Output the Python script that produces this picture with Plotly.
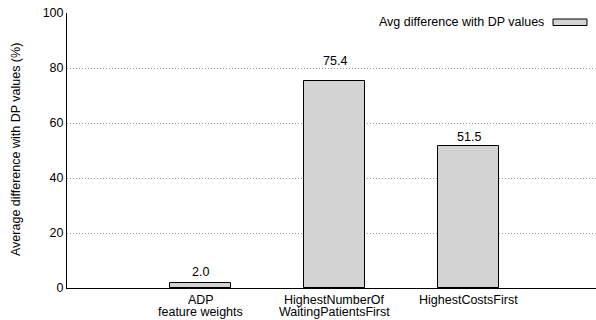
import plotly.graph_objects as go

categories = ["ADP\nfeature weights", "HighestNumberOf\nWaitingPatientsFirst", "HighestCostsFirst"]
values = [2.0, 75.4, 51.5]
value_labels = ["2.0", "75.4", "51.5"]
label_shift = [11, 20, 9]
y_ticks = [0, 20, 40, 60, 80, 100]
series_name = "Avg difference with DP values"
y_title = "Average difference with DP values (%)"

xpos = list(range(len(categories)))
font = dict(family="Liberation Sans, Arial, sans-serif", size=12.5, color="black")

W, H = 596, 320
L, R, T, B = 67, 0, 13, 32
pw, ph = W - L - R, H - T - B
def px(xp):
    return (xp - L) / pw
def py(yp):
    return 1 - (yp - T) / ph

fig = go.Figure()
fig.add_trace(go.Bar(
    x=xpos, y=values, width=0.455, name=series_name,
    marker=dict(color="#d3d3d3", line=dict(color="black", width=1)),
    showlegend=False, hoverinfo="skip",
))

for xi, v, t, s in zip(xpos, values, value_labels, label_shift):
    fig.add_annotation(x=xi, y=v, text=t, showarrow=False, yshift=s,
                       yanchor="middle", xanchor="center", font=font)

# category labels (gnuplot-like tight line spacing)
for xi, cat in zip(xpos, categories):
    for li, line in enumerate(cat.split("\n")):
        fig.add_annotation(x=xi, xref="x", y=py(300 + 11.5 * li), yref="paper", text=line,
                           showarrow=False, xanchor="center", yanchor="middle", font=font)

# y axis title
fig.add_annotation(x=px(16), y=py(150), xref="paper", yref="paper", text=y_title,
                   textangle=-90, showarrow=False, xanchor="center", yanchor="middle", font=font)

# legend (text then swatch, gnuplot style)
fig.add_annotation(x=px(546), y=py(22), xref="paper", yref="paper", text=series_name,
                   showarrow=False, xanchor="right", yanchor="middle", font=font)
fig.add_shape(type="rect", xref="paper", yref="paper",
              x0=px(553), x1=px(587), y0=py(25.5), y1=py(19),
              fillcolor="#d3d3d3", line=dict(color="black", width=1))

fig.update_layout(
    width=W, height=H,
    margin=dict(l=L, r=R, t=T, b=B, autoexpand=False),
    paper_bgcolor="white", plot_bgcolor="white",
    font=font, bargap=0, hovermode=False,
    xaxis=dict(range=[-0.997, 2.95], tickmode="array", tickvals=xpos,
               showticklabels=False,
               showgrid=False, zeroline=False, showline=True, linecolor="black", linewidth=1,
               ticks="", automargin=False),
    yaxis=dict(range=[0, 100], tickvals=y_ticks, showgrid=True, gridcolor="#999999",
               griddash="1px,2px", gridwidth=1, zeroline=False, showline=True,
               linecolor="black", linewidth=1, ticks="", tickfont=font, automargin=False),
)
fig.write_html("out.html", config={"displayModeBar": False},
               post_script="document.body.style.margin='0';")
